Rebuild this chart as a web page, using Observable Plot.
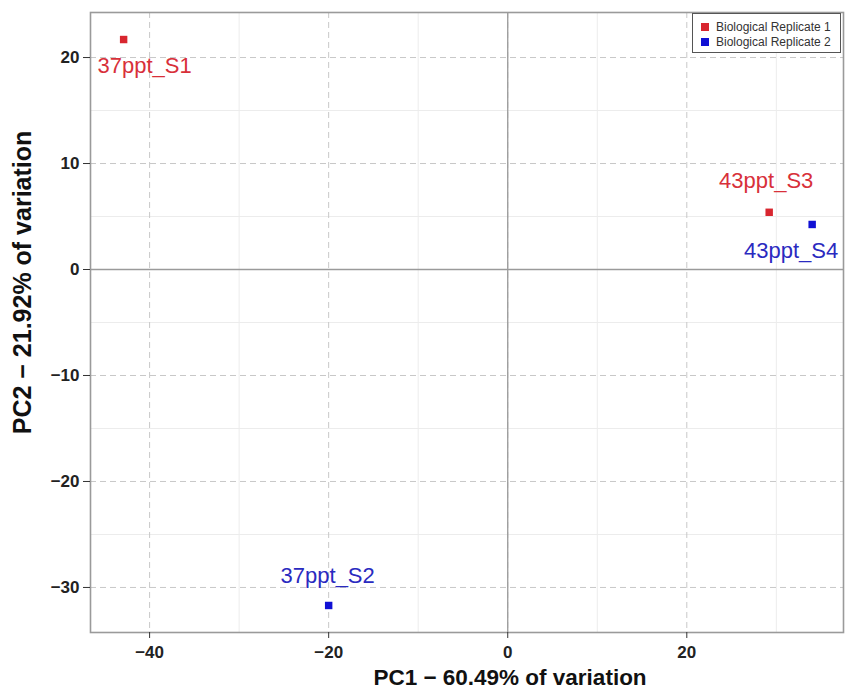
<!DOCTYPE html>
<html>
<head>
<meta charset="utf-8">
<script src="https://cdn.jsdelivr.net/npm/d3@7"></script>
<script src="https://cdn.jsdelivr.net/npm/@observablehq/plot@0.6"></script>
<style>
  body { margin: 0; background: #fff; font-family: "Liberation Sans", Arial, sans-serif; }
  #wrap { position: relative; width: 845px; height: 692px; }
  #legend { position: absolute; left: 692px; top: 13px; width: 147px; height: 38px;
    border: 1px solid #555; background: #fff; font-size: 12px; color: #333; }
  .item { position: absolute; left: 8px; display: flex; align-items: center; }
  .sw { width: 8px; height: 8px; margin-right: 7px; }
</style>
</head>
<body>
<div id="wrap"></div>
<script>
// data
const samples = ["37ppt_S1", "37ppt_S2", "43ppt_S3", "43ppt_S4"];
const pc1 = [-42.9, -20.0, 29.2, 34.0];
const pc2 = [21.7, -31.7, 5.4, 4.25];
const replicate = ["Biological Replicate 1", "Biological Replicate 2", "Biological Replicate 1", "Biological Replicate 2"];
const replicates = ["Biological Replicate 1", "Biological Replicate 2"];
const xTicks = [-40, -20, 0, 20];
const yTicks = [-30, -20, -10, 0, 10, 20];
const xMinor = [-30, -10, 10, 30];
const yMinor = [-25, -15, -5, 5, 15];

const pointColors = ["#d8262f", "#1010d4"];
const labelColors = ["#d8303a", "#2a2ac0"];

const data = samples.map((s, i) => ({name: s, x: pc1[i], y: pc2[i], rep: replicate[i]}));
const pc = d => pointColors[replicates.indexOf(d.rep)];
const lc = d => labelColors[replicates.indexOf(d.rep)];

const labelOffsets = {
  "37ppt_S1": [21, 26],
  "37ppt_S2": [-1, -30],
  "43ppt_S3": [-3, -31],
  "43ppt_S4": [-21, 26]
};

const labelMarks = samples.map(s => {
  const [dx, dy] = labelOffsets[s];
  return Plot.text(data.filter(d => d.name === s), {
    x: "x", y: "y", text: "name", fill: lc, dx, dy,
    fontSize: 22, textAnchor: "middle", lineAnchor: "middle",
    fontFamily: "Liberation Sans, Arial, sans-serif"
  });
});

const chart = Plot.plot({
  width: 845,
  height: 692,
  marginLeft: 90,
  marginRight: 2,
  marginTop: 12,
  marginBottom: 60,
  style: {background: "#fff", color: "#222", fontFamily: "Liberation Sans, Arial, sans-serif"},
  x: {domain: [-46.6, 37.5]},
  y: {domain: [-34.25, 24.25]},
  marks: [
    Plot.ruleX(xMinor, {stroke: "#ececec", strokeWidth: 1}),
    Plot.ruleY(yMinor, {stroke: "#ececec", strokeWidth: 1}),
    Plot.ruleX(xTicks, {stroke: "#c8c8c8", strokeWidth: 1, strokeDasharray: "6,4"}),
    Plot.ruleY(yTicks, {stroke: "#c8c8c8", strokeWidth: 1, strokeDasharray: "6,4"}),
    Plot.ruleX([0], {stroke: "#9a9a9a", strokeWidth: 1.3}),
    Plot.ruleY([0], {stroke: "#9a9a9a", strokeWidth: 1.3}),
    Plot.frame({stroke: "#9a9a9a", strokeWidth: 1.6}),
    Plot.dot(data, {x: "x", y: "y", fill: pc, symbol: "square", r: 4.2, stroke: null}),
    ...labelMarks,
    Plot.axisX({ticks: xTicks, tickSize: 6, tickPadding: 7, fontSize: 17, fontWeight: "bold",
      tickFormat: d => d < 0 ? "\u2212" + Math.abs(d) : String(d), label: null, stroke: "#333"}),
    Plot.axisY({ticks: yTicks, tickSize: 7, tickPadding: 4, fontSize: 17, fontWeight: "bold",
      tickFormat: d => d < 0 ? "\u2212" + Math.abs(d) : String(d), label: null, stroke: "#333"}),
    Plot.text(["PC1 \u2212 60.49% of variation"], {frameAnchor: "bottom", dx: 43, dy: 45,
      fontSize: 22.5, fontWeight: "bold", fill: "#111", textAnchor: "middle", lineAnchor: "middle"}),
    Plot.text(["PC2 \u2212 21.92% of variation"], {frameAnchor: "left", dx: -68, dy: -40, rotate: -90,
      fontSize: 25, fontWeight: "bold", fill: "#111", textAnchor: "middle", lineAnchor: "middle"})
  ]
});

const wrap = document.getElementById("wrap");
wrap.appendChild(chart);

const legend = document.createElement("div");
legend.id = "legend";
replicates.forEach((r, i) => {
  const item = document.createElement("div");
  item.className = "item";
  item.style.top = (6 + i * 15) + "px";
  const sw = document.createElement("div");
  sw.className = "sw";
  sw.style.background = pointColors[i];
  const t = document.createElement("span");
  t.textContent = r;
  item.appendChild(sw);
  item.appendChild(t);
  legend.appendChild(item);
});
wrap.appendChild(legend);
</script>
</body>
</html>
